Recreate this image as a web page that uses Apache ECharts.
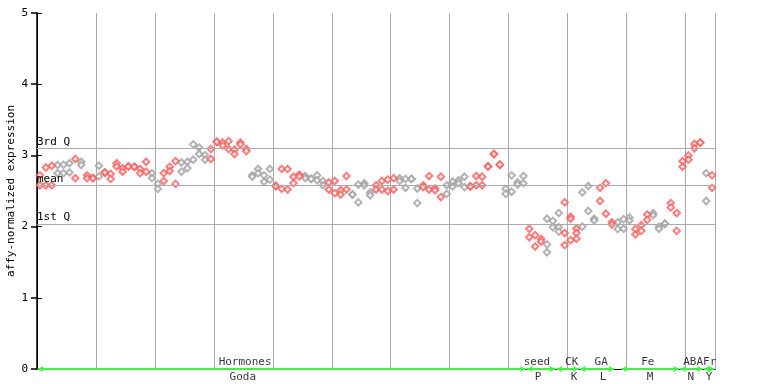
<!DOCTYPE html>
<html><head><meta charset="utf-8">
<script src="https://cdn.jsdelivr.net/npm/echarts@6/dist/echarts.min.js"></script>
<style>html,body{margin:0;padding:0;background:#fff}#c{width:768px;height:384px}</style>
</head><body><div id="c"></div>
<script>
// replicate values per sample (115 samples, left to right)
const rep1 = [2.72,2.83,2.855,2.865,2.87,2.89,2.95,2.91,2.72,2.68,
2.855,2.76,2.74,2.89,2.82,2.845,2.84,2.81,2.91,2.75,
2.60,2.75,2.84,2.92,2.90,2.91,3.155,3.11,3.005,3.09,
3.19,3.18,3.20,3.08,3.18,3.09,2.72,2.81,2.72,2.81,
2.57,2.81,2.81,2.70,2.73,2.71,2.67,2.72,2.64,2.62,
2.64,2.51,2.71,2.45,2.59,2.61,2.48,2.58,2.64,2.66,
2.68,2.68,2.67,2.67,2.535,2.58,2.71,2.535,2.70,2.58,
2.63,2.65,2.70,2.565,2.71,2.70,2.845,3.02,2.87,2.53,
2.72,2.62,2.71,1.97,1.88,1.825,2.11,2.08,2.19,2.34,
2.14,1.97,2.48,2.57,2.11,2.545,2.61,2.06,2.06,2.105,
2.13,1.965,2.02,2.17,2.19,2.00,2.04,2.33,2.19,2.92,
3.00,3.16,3.18,2.75,2.72];
const rep2 = [2.58,2.58,2.58,2.75,2.75,2.76,2.68,2.865,2.68,2.68,
2.705,2.76,2.67,2.845,2.77,2.845,2.84,2.75,2.77,2.68,
2.53,2.64,2.78,2.60,2.77,2.82,2.94,3.02,2.94,2.95,
3.19,3.14,3.09,3.02,3.155,3.06,2.70,2.75,2.63,2.66,
2.57,2.53,2.52,2.61,2.705,2.68,2.67,2.65,2.58,2.52,
2.47,2.45,2.52,2.45,2.34,2.58,2.44,2.52,2.52,2.50,
2.52,2.64,2.545,2.67,2.33,2.555,2.52,2.51,2.415,2.46,
2.565,2.61,2.555,2.565,2.58,2.58,2.845,3.02,2.87,2.46,
2.49,2.59,2.61,1.85,1.72,1.79,1.75,1.99,1.99,1.91,
2.11,1.91,2.00,2.22,2.085,2.36,2.18,2.03,1.965,1.97,
2.085,1.89,1.94,2.095,2.16,1.97,2.04,2.27,1.94,2.84,
2.94,3.10,3.18,2.36,2.545];
const rep3 = {86:1.64, 88:1.93, 89:1.74, 90:1.81, 91:1.83};
// colour of each sample: r = red, g = grey
const colourRuns = [['r',3],['g',3],['r',1],['g',1],['r',2],['g',1],['r',2],['r',6],['g',2],['r',3],
['g',5],['r',7],['g',4],['r',5],['g',4],['r',4],['g',4],['r',4],['g',4],['r',4],['g',4],['r',4],
['r',2],['g',4],['r',3],['g',3],['r',3],['g',3],['r',3],['g',3],['r',3],['g',3],['r',2],['r',4],['g',1],['r',1]];
// quartile reference lines
const refNames = ['3rd Q','mean','1st Q'];
const refValues = [3.104, 2.583, 2.035];
// experiment groups (sample index ranges)
const groupTop = ['Hormones','seed','CK','GA','Fe','ABA','Fr'];
const groupBottom = ['Goda','P','K','L','M','N','Y'];
const groupStart = [0,83,88,92,99,109,113];
const groupEnd = [82,87,91,97,108,112,114];
const groupLabelTop = [35.3,84.8,90.7,95.7,103.6,111.3,114.1];
const groupLabelBottom = [34.9,85.0,91.1,96.0,104.0,110.9,114.0];
const yTicks = [0,1,2,3,4,5];

const colours = [];
colourRuns.forEach(([c,n])=>{for(let k=0;k<n;k++)colours.push(c);});
const redData=[], greyData=[];
rep1.forEach((v,i)=>{
  const pts=[v,rep2[i]]; if(rep3[i]!==undefined)pts.push(rep3[i]);
  const target = colours[i]==='g'?greyData:redData;
  pts.forEach(p=>target.push([i+0.5,p]));
});
const font='DejaVu Sans Mono';
const chart = echarts.init(document.getElementById('c'),null,{renderer:'canvas'});
const ptStyle = c=>({type:'scatter',symbol:'emptyDiamond',symbolSize:6.5,itemStyle:{color:c,borderWidth:1},animation:false,silent:true});
chart.setOption({
  animation:false,
  grid:{left:37,right:53,top:13,bottom:15,containLabel:false,outerBoundsMode:'none'},
  xAxis:[
    {type:'value',min:0,max:115,interval:10,position:'bottom',
     axisLine:{show:true,onZero:false,lineStyle:{color:'#000',width:1}},axisTick:{show:false},axisLabel:{show:false},
     splitLine:{show:true,lineStyle:{color:'#aaaaaa',width:1}}},
    {type:'value',min:0,max:115,position:'top',
     axisLine:{show:true,lineStyle:{color:'#000',width:1}},axisTick:{show:false},axisLabel:{show:false},splitLine:{show:false}}
  ],
  yAxis:[
    {type:'value',min:yTicks[0],max:yTicks[yTicks.length-1],interval:1,position:'left',
     name:'affy-normalized expression',nameLocation:'middle',nameGap:20,nameMoveOverlap:false,
     nameTextStyle:{fontFamily:font,fontSize:11,color:'#000'},
     axisLine:{show:true,lineStyle:{color:'#000',width:1}},
     axisTick:{show:true,inside:true,length:5,lineStyle:{color:'#000'}},
     axisLabel:{fontFamily:font,fontSize:11,color:'#000',margin:9},splitLine:{show:false}},
    {type:'value',min:0,max:5,interval:1,position:'right',
     axisLine:{show:true,lineStyle:{color:'#000',width:1.5}},
     axisTick:{show:true,inside:true,length:6,lineStyle:{color:'#000',width:1.5}},
     axisLabel:{show:false},splitLine:{show:false}}
  ],
  series:[
    Object.assign(ptStyle('#a0a0a0'),{data:greyData,z:3}),
    Object.assign(ptStyle('#ff5c5c'),{data:redData,z:4}),
    {type:'line',data:[],silent:true,z:2,
     markLine:{silent:true,symbol:'none',animation:false,
       lineStyle:{color:'#aaaaaa',width:1,type:'solid'},
       label:{show:true,position:'insideStartTop',distance:[0,1],fontFamily:font,fontSize:11,color:'#000',
         formatter:p=>p.name},
       data:refValues.map((v,i)=>({name:refNames[i],yAxis:v}))}},
    {type:'line',data:[],silent:true,z:5,
     markLine:{silent:true,symbol:['arrow','arrow'],symbolSize:[5,6],animation:false,
       lineStyle:{color:'#44ee44',width:2,type:'solid'},label:{show:false},
       data:groupStart.map((s,i)=>[{coord:[s+0.1,0]},{coord:[groupEnd[i]+0.9,0]}])}},
    {type:'scatter',symbolSize:0,clip:false,silent:true,z:6,
     label:{show:true,position:'inside',offset:[0,-7],fontFamily:font,fontSize:11,color:'#000',formatter:p=>p.name},
     data:groupTop.map((n,i)=>({name:n,value:[groupLabelTop[i],0]}))},
    {type:'scatter',symbolSize:0,clip:false,silent:true,z:6,
     label:{show:true,position:'inside',offset:[0,8],fontFamily:font,fontSize:11,color:'#000',formatter:p=>p.name},
     data:groupBottom.map((n,i)=>({name:n,value:[groupLabelBottom[i],0]}))}
  ]
});
</script></body></html>
